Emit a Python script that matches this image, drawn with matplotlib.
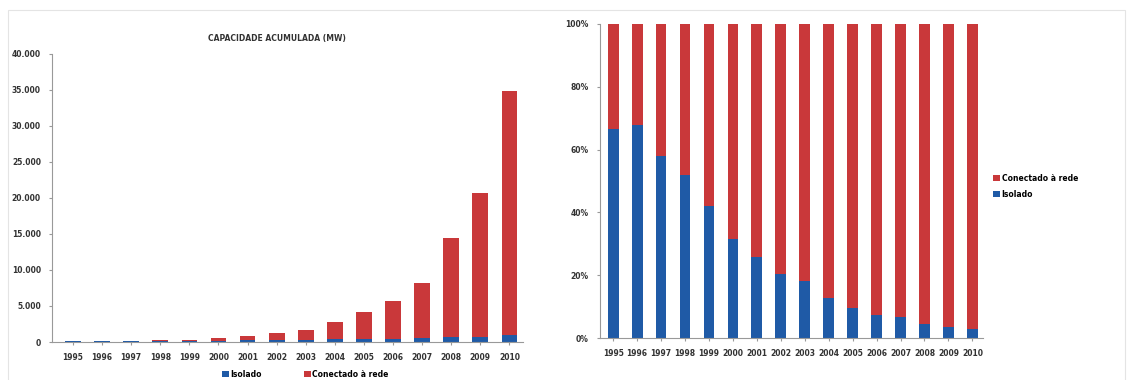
import matplotlib
matplotlib.use("Agg")
import matplotlib.pyplot as plt
import numpy as np
from matplotlib.patches import Rectangle
from matplotlib.ticker import FuncFormatter

# Accumulated PV capacity (MW) by year, split into off-grid and grid-connected
YEARS = [str(y) for y in range(1995, 2011)]
TOTAL_MW = [120, 150, 200, 250, 330, 560, 850, 1200, 1650, 2800,
            4100, 5700, 8200, 14400, 20700, 34800]
ISOLADO_SHARE = [0.665, 0.678, 0.58, 0.52, 0.42, 0.316, 0.257, 0.204,
                 0.182, 0.127, 0.095, 0.075, 0.069, 0.044, 0.036, 0.028]

ISOLADO_MW = [t * s for t, s in zip(TOTAL_MW, ISOLADO_SHARE)]
CONECTADO_MW = [t - i for t, i in zip(TOTAL_MW, ISOLADO_MW)]

BLUE = "#1f5aa6"
RED = "#c9383a"
TXT = "#333333"

plt.rcParams["font.family"] = ["DejaVu Sans"]
plt.rcParams["font.size"] = 5.5

fig = plt.figure(figsize=(11.31, 3.80), dpi=100)
fig.patches.append(Rectangle((0.007, -0.01), 0.988, 0.983, transform=fig.transFigure,
                             fill=False, edgecolor="#e4e4e4", linewidth=0.8))

x = np.arange(len(YEARS))

# --- left: stacked MW ---
ax1 = fig.add_axes([0.046, 0.10, 0.416, 0.758])
ax1.bar(x, ISOLADO_MW, width=0.54, color=BLUE, label="Isolado")
ax1.bar(x, CONECTADO_MW, width=0.54, bottom=ISOLADO_MW, color=RED,
        label="Conectado à rede")
ax1.set_ylim(0, 40000)
ax1.set_xlim(-0.72, 15.45)
ax1.set_yticks(range(0, 40001, 5000))
ax1.yaxis.set_major_formatter(FuncFormatter(lambda v, p: f"{int(v):,}".replace(",", ".")))
ax1.set_xticks(x)
ax1.set_xticklabels(YEARS)
for s in ["top", "right"]:
    ax1.spines[s].set_visible(False)
ax1.spines["left"].set_color("#999999")
ax1.spines["bottom"].set_color("#999999")
ax1.tick_params(length=2, color="#999999", labelcolor=TXT, pad=6)
for lab in ax1.get_xticklabels() + ax1.get_yticklabels():
    lab.set_fontweight("bold")
fig.text(0.245, 0.90, "CAPACIDADE ACUMULADA (MW)", ha="center", va="center",
         fontsize=5.5, fontweight="bold", color=TXT)
h1, l1 = ax1.get_legend_handles_labels()
fig.legend(handles=h1, labels=l1,
           loc="center", bbox_to_anchor=(0.27, 0.015), ncol=2, frameon=False,
           handlelength=0.9, handleheight=0.9, handletextpad=0.2,
           columnspacing=5.5, prop={"size": 5.5, "weight": "bold"})

# --- right: 100% stacked share ---
ax2 = fig.add_axes([0.5305, 0.11, 0.339, 0.827])
iso_pct = [i / t for i, t in zip(ISOLADO_MW, TOTAL_MW)]
con_pct = [c / t for c, t in zip(CONECTADO_MW, TOTAL_MW)]
b_iso = ax2.bar(x, iso_pct, width=0.45, color=BLUE, label="Isolado")
b_con = ax2.bar(x, con_pct, width=0.45, bottom=iso_pct, color=RED,
                label="Conectado à rede")
ax2.set_ylim(0, 1)
ax2.set_xlim(-0.55, 15.46)
ax2.set_yticks(np.linspace(0, 1, 6))
ax2.yaxis.set_major_formatter(FuncFormatter(lambda v, p: f"{v:.0%}"))
ax2.set_xticks(x)
ax2.set_xticklabels(YEARS)
for s in ["top", "right"]:
    ax2.spines[s].set_visible(False)
ax2.spines["left"].set_color("#999999")
ax2.spines["bottom"].set_color("#999999")
ax2.tick_params(length=2, color="#999999", labelcolor=TXT, pad=6)
for lab in ax2.get_xticklabels() + ax2.get_yticklabels():
    lab.set_fontweight("bold")
fig.legend(handles=[b_con, b_iso], labels=["Conectado à rede", "Isolado"],
           loc="center left", bbox_to_anchor=(0.872, 0.51), frameon=False,
           handlelength=0.9, handleheight=0.9, handletextpad=0.2,
           labelspacing=0.9, prop={"size": 5.5, "weight": "bold"})

fig.savefig("out.png", dpi=100, facecolor="white")
